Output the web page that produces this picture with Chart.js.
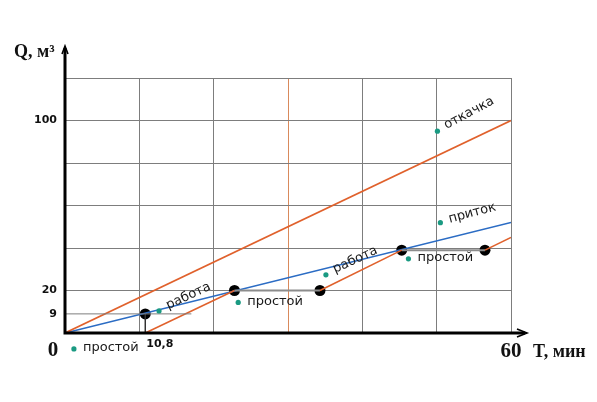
<!DOCTYPE html>
<html>
<head>
<meta charset="utf-8">
<script src="https://cdn.jsdelivr.net/npm/chart.js@4.4.1/dist/chart.umd.min.js"></script>
<style>
  html,body{margin:0;padding:0;background:#fff}
  #wrap{width:597px;height:402px}
</style>
</head>
<body>
<div id="wrap"><canvas id="chart"></canvas></div>
<script>
// values (T in min, Q in m3)
const inflowT = [0, 60];
const inflowQ = [0, 52];
const pumpT = [0, 60];
const pumpQ = [0, 100];
const workStartT = [10.8, 34.3, 56.5];
const workStartQ = [0, 20, 39];
const workEndT = [22.8, 45.3, 60];
const workEndQ = [20, 39, 45];
const idleStartT = [22.8, 45.3];
const idleEndT = [34.3, 56.5];
const idleQ = [20, 39];
const keyT = [10.8, 22.8, 34.3, 45.3, 56.5];
const keyQ = [9, 20, 20, 39, 39];
const guideT = [10.8];
const guideQ = [9];
const yTickLabels = [9, 20, 100];
const xTickLabels = ['0', '10,8', '60'];
const xTickValues = [0, 10.8, 60];
const noteText = ['простой', 'работа', 'простой', 'работа', 'простой', 'приток', 'откачка'];
const noteT = [1.2, 12.65, 23.3, 35.1, 46.2, 50.5, 50.1];
const noteQ = [-7.5, 10.4, 14.4, 27.4, 34.9, 51.9, 95];
const noteAngle = [0, -25, 0, -25, 0, -15, -28];

const ORANGE = '#e0612c';
const BLUE = '#2b6cc4';
const TEAL = '#1a9a82';
const GRID = '#7d7d7d';

function pts(ts, qs){ return ts.map((t,i)=>({x:t, y:qs[i]})); }

function line(data, color, width){
  return {data, showLine:true, borderColor:color, borderWidth:width, pointRadius:0, fill:false};
}

const datasets = [];
// guides to the first point
datasets.push(line([{x:0,y:guideQ[0]},{x:17,y:guideQ[0]}], GRID, 1));
datasets.push(line([{x:guideT[0],y:0},{x:guideT[0],y:guideQ[0]}], '#333', 1.5));
// pump capacity from zero
datasets.push(line(pts(pumpT, pumpQ), ORANGE, 1.6));
// pump work pieces
workStartT.forEach((t,i)=>{
  datasets.push(line([{x:t,y:workStartQ[i]},{x:workEndT[i],y:workEndQ[i]}], ORANGE, 1.6));
});
// idle pieces
idleStartT.forEach((t,i)=>{
  datasets.push(line([{x:t,y:idleQ[i]},{x:idleEndT[i],y:idleQ[i]}], '#8c8c8c', 2));
});
// inflow
datasets.push(line(pts(inflowT, inflowQ), BLUE, 1.6));
// switching points
datasets.push({data:pts(keyT, keyQ), showLine:false, pointRadius:5.5, pointBackgroundColor:'#000', pointBorderColor:'#000', pointBorderWidth:0});

const deco = {
  id:'deco',
  afterDatasetsDraw(chart){
    const {ctx, chartArea:a, scales:{x, y}} = chart;
    const x0 = x.getPixelForValue(0), y0 = y.getPixelForValue(0);
    ctx.save();

    // axes with arrows
    ctx.strokeStyle = '#000';
    ctx.lineWidth = 3;
    ctx.lineCap = 'butt';
    ctx.beginPath();
    ctx.moveTo(x0, y0 + 1.5); ctx.lineTo(x0, a.top - 30);
    ctx.moveTo(x0 - 1.5, y0); ctx.lineTo(a.right + 14, y0);
    ctx.stroke();
    ctx.lineWidth = 1.6;
    ctx.beginPath();
    ctx.moveTo(x0 - 3, a.top - 24); ctx.lineTo(x0, a.top - 32); ctx.lineTo(x0 + 3, a.top - 24);
    ctx.moveTo(a.right + 6, y0 - 4); ctx.lineTo(a.right + 16, y0); ctx.lineTo(a.right + 6, y0 + 4);
    ctx.stroke();

    // tick labels
    ctx.fillStyle = '#111';
    ctx.font = 'bold 11px "DejaVu Sans", sans-serif';
    ctx.textAlign = 'right';
    ctx.textBaseline = 'middle';
    yTickLabels.forEach(v => ctx.fillText(String(v), x0 - 8, y.getPixelForValue(v)));
    ctx.textAlign = 'left';
    ctx.fillText(xTickLabels[1], x.getPixelForValue(xTickValues[1]) + 1, y0 + 11);

    ctx.font = 'bold 21px "Liberation Serif", serif';
    ctx.textAlign = 'center';
    ctx.fillText(xTickLabels[0], x0 - 12, y0 + 18);
    ctx.fillText(xTickLabels[2], x.getPixelForValue(xTickValues[2]), y0 + 19);

    ctx.font = 'bold 18px "Liberation Serif", serif';
    ctx.textAlign = 'left';
    ctx.fillText('T, мин', a.right + 22, y0 + 19);
    ctx.fillText('Q, м³', 14, a.top - 26);

    // notes
    ctx.font = '13px "DejaVu Sans", sans-serif';
    noteText.forEach((txt, i) => {
      const px = x.getPixelForValue(noteT[i]);
      const py = y.getPixelForValue(noteQ[i]);
      ctx.fillStyle = TEAL;
      ctx.beginPath(); ctx.arc(px, py, 2.6, 0, Math.PI * 2); ctx.fill();
      ctx.save();
      ctx.translate(px, py);
      ctx.rotate(noteAngle[i] * Math.PI / 180);
      ctx.fillStyle = '#1a1a1a';
      ctx.textAlign = 'left';
      ctx.textBaseline = 'middle';
      ctx.fillText(txt, 9, -1);
      ctx.restore();
    });

    ctx.restore();
  }
};

new Chart(document.getElementById('chart'), {
  type:'scatter',
  data:{datasets},
  options:{
    responsive:true,
    maintainAspectRatio:false,
    animation:false,
    layout:{padding:{left:65, right:86, top:78, bottom:69}},
    plugins:{legend:{display:false}, tooltip:{enabled:false}},
    scales:{
      x:{
        type:'linear', min:0, max:60,
        border:{display:false},
        grid:{drawTicks:false, lineWidth:1, color:c => c.tick && c.tick.value === 30 ? '#d98a5c' : GRID},
        ticks:{display:false, stepSize:10}
      },
      y:{
        type:'linear', min:0, max:120,
        border:{display:false},
        grid:{drawTicks:false, lineWidth:1, color:GRID},
        ticks:{display:false, stepSize:20}
      }
    }
  },
  plugins:[deco]
});
</script>
</body>
</html>
